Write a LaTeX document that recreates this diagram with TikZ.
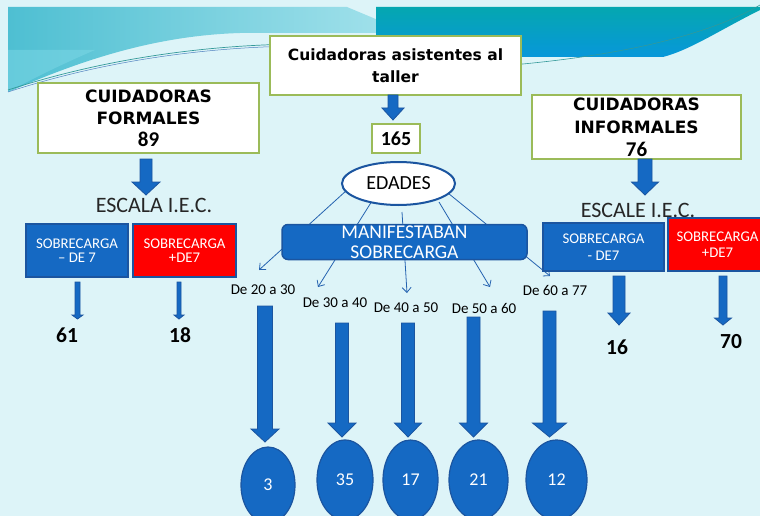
\documentclass[tikz,border=0pt]{standalone}
\usepackage{fontspec}
\setmainfont{Carlito}
\newfontfamily\titlefont{DejaVu Sans}
\usetikzlibrary{shapes.geometric,arrows.meta}
\definecolor{bgc}{HTML}{DDF4F8}
\definecolor{arrowblue}{HTML}{1569C3}
\definecolor{arrowedge}{HTML}{1B55A0}
\definecolor{boxgreen}{HTML}{9BBB59}
\definecolor{bannerA}{HTML}{05A7B0}
\definecolor{bannerB}{HTML}{0797DA}
\definecolor{lineblue}{HTML}{2563B0}
\definecolor{patA}{HTML}{4EBFD2}
\definecolor{patB}{HTML}{9FE0EA}
\definecolor{patC}{HTML}{7ED8E6}
\newcommand\blockarr[6]{%
  \draw[barrow] (#1-#5,#2) -- (#1+#5,#2) -- (#1+#5,#3) -- (#1+#6,#3) -- (#1,#4) -- (#1-#6,#3) -- (#1-#5,#3) -- cycle;}
\tikzset{
  whitebox/.style={draw=boxgreen, line width=2pt, fill=white, inner sep=0pt, align=center, text=black},
  bluebox/.style={draw=arrowedge, line width=1.5pt, fill=arrowblue, text=white, inner sep=0pt, align=center},
  redbox/.style={draw=arrowedge, line width=1.5pt, fill=red, text=white, inner sep=0pt, align=center},
  barrow/.style={fill=arrowblue, draw=arrowedge, line width=0.8pt, line join=miter},
  thinarrow/.style={draw=lineblue, line width=0.8pt, -{Straight Barb[length=5pt,width=9pt]}},
  agelabel/.style={font=\fontsize{15}{16}\selectfont, inner sep=0pt, text=black},
  bignum/.style={font=\fontsize{21.5}{22}\selectfont\bfseries, inner sep=0pt, text=black},
  circnum/.style={ellipse, fill=arrowblue, draw=arrowedge, line width=1.2pt, text=white, inner sep=0pt, font=\fontsize{18}{20}\selectfont},
  scalelabel/.style={font=\fontsize{22}{22}\selectfont, inner sep=0pt, text=black!85}
}
\begin{document}
\begin{tikzpicture}[x=1pt,y=-1pt]
\useasboundingbox (0,0) rectangle (760,516);
\clip (0,0) rectangle (760,516);
\fill[bgc] (0,0) rectangle (760,516);
% top-left patterned area
\shade[left color=patA, right color=patB] (8,7) -- (347,7) -- (378,20) -- (378,33) -- (240,33) .. controls (140,36) and (60,70) .. (8,92) -- cycle;
\fill[patC, opacity=0.5] (8,50) -- (95,50) .. controls (60,65) and (30,80) .. (8,92) -- cycle;
% top-right banner
\shade[top color=bannerA, bottom color=bannerB] (376,7) -- (760,7) -- (760,10) .. controls (720,30) and (690,50) .. (663,57) -- (376,57) -- cycle;
% thin decorative lines
\draw[teal!80, line width=0.7pt] (8,90) .. controls (100,60) and (200,45) .. (300,44);
\draw[lineblue!80, line width=0.5pt] (8,92) .. controls (100,62) and (200,47) .. (300,46);
\draw[teal!80, line width=0.6pt] (500,66) .. controls (600,58) and (700,40) .. (760,5);

% ===== centre column =====
\node[whitebox, minimum width=251pt, minimum height=59pt, font=\titlefont\fontsize{15.5}{22}\selectfont\bfseries] (top) at (395.5,65.5) {Cuidadoras asistentes al\\taller};
\blockarr{393}{95}{108}{120}{5}{11}
\node[whitebox, minimum width=48pt, minimum height=29pt, font=\fontsize{20}{20}\selectfont\bfseries] (total) at (396,138.5) {165};

% thin arrows from EDADES
\coordinate (s1) at (347,190); \coordinate (e1) at (259,270);
\coordinate (s2) at (372,201); \coordinate (e2) at (318,287);
\coordinate (s3) at (402,212); \coordinate (e3) at (407,293);
\coordinate (s4) at (439,202); \coordinate (e4) at (490,287);
\coordinate (s5) at (443,189); \coordinate (e5) at (550,276);
\foreach \i in {1,...,5} {\draw[thinarrow] (s\i) -- (e\i);}

\node[ellipse, draw=arrowedge, line width=2pt, fill=white, minimum width=113pt, minimum height=43pt, inner sep=0pt, font=\fontsize{20}{20}\selectfont] (edades) at (398.5,183.5) {EDADES};
\node[bluebox, rounded corners=6pt, minimum width=245pt, minimum height=35pt, font=\fontsize{19.5}{20}\selectfont] (manif) at (404.5,242) {MANIFESTABAN\\SOBRECARGA};

\node[agelabel] (a1) at (263,290) {De 20 a 30};
\node[agelabel] (a2) at (335,303) {De 30 a 40};
\node[agelabel] (a3) at (406,308) {De 40 a 50};
\node[agelabel] (a4) at (484,308) {De 50 a 60};
\node[agelabel] (a5) at (555,290) {De 60 a 77};

\blockarr{265}{306}{429}{442}{7.5}{14}
\blockarr{342}{323}{423}{437}{6.5}{14}
\blockarr{408}{323}{423}{437}{6.5}{13.5}
\blockarr{473.5}{317}{423}{437}{6.5}{14}
\blockarr{549.5}{311}{423}{437}{6.5}{17}

\node[circnum, minimum width=54pt, minimum height=76pt] (c1) at (268,485) {3};
\node[circnum, minimum width=56pt, minimum height=80pt] (c2) at (345,480) {35};
\node[circnum, minimum width=55pt, minimum height=80pt] (c3) at (410.5,480) {17};
\node[circnum, minimum width=59pt, minimum height=80pt] (c4) at (478.5,480) {21};
\node[circnum, minimum width=61pt, minimum height=80pt] (c5) at (556.5,480) {12};

% ===== left column =====
\node[whitebox, minimum width=221pt, minimum height=70pt, font=\titlefont\fontsize{17}{22}\selectfont\bfseries] (formal) at (148.5,118) {CUIDADORAS\\FORMALES\\{\rmfamily\fontsize{21}{22}\selectfont\bfseries 89}};
\blockarr{146}{159}{182}{195}{6}{14}
\node[scalelabel] (escL) at (154,205) {ESCALA I.E.C.};
\node[bluebox, minimum width=102pt, minimum height=53pt, font=\fontsize{14.8}{14}\selectfont] (lblue) at (77,250.5) {SOBRECARGA\\– DE 7};
\node[redbox, minimum width=103pt, minimum height=53pt, font=\fontsize{14.8}{14}\selectfont] (lred) at (184.5,250.5) {SOBRECARGA\\+DE7};
\blockarr{77.5}{282}{315}{319}{2.5}{5.5}
\blockarr{179}{282}{315}{319}{2}{5}
\node[bignum] (n61) at (67,335) {61};
\node[bignum] (n18) at (180,335) {18};

% ===== right column =====
\node[whitebox, minimum width=209pt, minimum height=64pt, font=\titlefont\fontsize{17}{23}\selectfont\bfseries] (informal) at (636.5,127) {CUIDADORAS\\INFORMALES\\{\rmfamily\fontsize{21}{22}\selectfont\bfseries 76}};
\blockarr{645}{159}{182}{195}{7}{13.5}
\node[scalelabel] (escR) at (638,210) {ESCALE I.E.C.};
\node[bluebox, minimum width=121pt, minimum height=48pt, font=\fontsize{14.8}{17}\selectfont] (rblue) at (603.5,247) {SOBRECARGA\\- DE7};
\node[redbox, minimum width=104pt, minimum height=53pt] (rred) at (720,244.5) {};
\node[text=white, align=center, inner sep=0pt, font=\fontsize{14.8}{16}\selectfont] (rredtext) at (717.5,244.5) {SOBRECARGA\\+DE7};
\blockarr{619}{276}{313}{325}{6}{11}
\blockarr{723}{276}{318}{325}{4}{8.5}
\node[bignum] (n16) at (617,347) {16};
\node[bignum] (n70) at (731,342) {70};
\end{tikzpicture}
\end{document}
